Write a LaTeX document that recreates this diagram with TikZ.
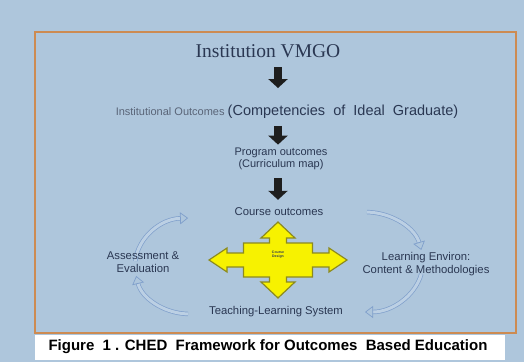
\documentclass[tikz,border=0pt]{standalone}
\usepackage{fontspec}
\setmainfont{Liberation Serif}
\setsansfont{Liberation Sans}
\usetikzlibrary{positioning,arrows.meta}
\definecolor{pagebg}{HTML}{AEC6DC}
\definecolor{framecol}{HTML}{CD8B52}
\definecolor{textnavy}{HTML}{2A3752}
\definecolor{textgray}{HTML}{5A6578}
\definecolor{cycline}{HTML}{7F9FCB}
\definecolor{cycfill}{HTML}{BCD0E4}
\definecolor{hubfill}{HTML}{F7F200}
\definecolor{hubline}{HTML}{8C8A1E}
\definecolor{arrowblack}{HTML}{1E1E1E}
\tikzset{
  frame/.style={draw=framecol,line width=2.2pt},
  title/.style={font=\fontsize{19.5}{22}\selectfont,text=textnavy,inner sep=1pt},
  lab/.style={font=\sffamily\fontsize{11.3}{13}\selectfont,text=textnavy,inner sep=1pt,align=center},
  caption/.style={font=\sffamily\bfseries\fontsize{15}{17}\selectfont,text=black,inner sep=1pt},
  % the thick black arrows down the middle column
  down/.style={draw=arrowblack,line width=8.5pt,-{Triangle[length=9pt,width=19pt]}},
  % the pale curved arrows round the cycle
  cyc/.style={draw=cycline,line width=0.7pt,double=cycfill,double distance=3pt,
              -{Triangle[open,length=8pt,width=12pt]}},
  hub/.style={fill=hubfill,draw=hubline,line width=1.2pt,line join=miter},
}
\begin{document}
\begin{tikzpicture}[x=1pt,y=-1pt]
  % page, frame and caption strip
  \fill[pagebg] (0,0) rectangle (524,362);
  \draw[frame] (35,32) rectangle (516,333);
  \fill[white] (35,335) rectangle (505,360);
  \node[caption] (cap) at (268,347) {Figure \ 1 . CHED \ Framework for Outcomes \ Based Education};

  % the outcomes column
  \node[title] (vmgo) at (268,51) {Institution VMGO};
  \node[lab] (inst) at (287,112) {{\color{textgray}\fontsize{11}{13}\selectfont Institutional Outcomes}
    {\fontsize{14.5}{17}\selectfont(Competencies \ of \ Ideal \ Graduate)}};
  \node[lab,font=\sffamily\fontsize{11}{11.5}\selectfont] (prog) at (281,159) {Program outcomes\\(Curriculum map)};
  \node[lab] (course) at (279,212) {Course outcomes};
  \coordinate (hub) at (278,260);

  \draw[down,shorten <=8.5pt,shorten >=16pt] (vmgo.south -| hub) -- (inst.north -| hub);
  \draw[down,shorten <=6pt,shorten >=2.5pt] (inst.south -| hub) -- (prog.north -| hub);
  \draw[down,shorten <=7.5pt,shorten >=7pt] (prog.south -| hub) -- (course.north -| hub);

  % four-way arrow for course design
  \filldraw[hub,shift={(hub)}] (0,-38) -- (17,-22) -- (8.5,-22) -- (8.5,-17) -- (34.5,-17) -- (34.5,-7)
    -- (51,-7) -- (51,-12) -- (69,0) -- (51,12) -- (51,7) -- (34.5,7) -- (34.5,17) -- (8.5,17)
    -- (8.5,22) -- (17,22) -- (0,38) -- (-17,22) -- (-8.5,22) -- (-8.5,17) -- (-34.5,17) -- (-34.5,7)
    -- (-51,7) -- (-51,12) -- (-69,0) -- (-51,-12) -- (-51,-7) -- (-34.5,-7) -- (-34.5,-17)
    -- (-8.5,-17) -- (-8.5,-22) -- (-17,-22) -- cycle;
  \node[lab,font=\sffamily\bfseries\fontsize{3.5}{4}\selectfont] (design) at (278,255) {Course\\Design};

  % the cycle round the hub
  \coordinate (lc) at (190,266);
  \coordinate (rc) at (365,262);
  \draw[cyc] (lc) ++(186:55 and 48) arc[start angle=186,end angle=268,x radius=55,y radius=48];
  \draw[cyc] (lc) ++(92:55 and 48) arc[start angle=92,end angle=168,x radius=55,y radius=48];
  \draw[cyc] (rc) ++(-88:58 and 50) arc[start angle=-88,end angle=-14,x radius=58,y radius=50];
  \draw[cyc] (rc) ++(14:58 and 50) arc[start angle=14,end angle=90,x radius=58,y radius=50];

  \node[lab] (assess) at (143,262) {Assessment \&\\Evaluation};
  \node[lab] (envir) at (426,264) {Learning Environ:\\Content \& Methodologies};
  \node[lab] (teach) at (276,312) {Teaching-Learning System};
\end{tikzpicture}
\end{document}
